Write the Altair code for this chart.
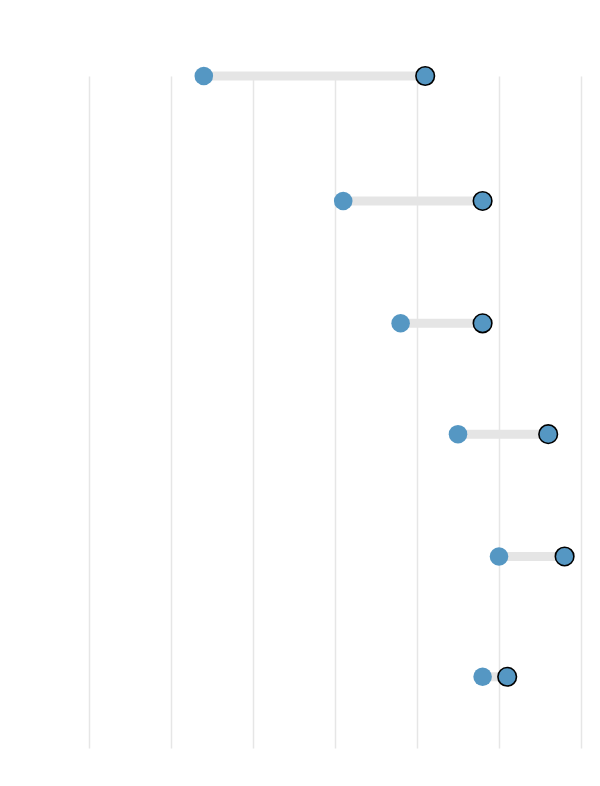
import altair as alt
import pandas as pd

rows = ["A", "B", "C", "D", "E", "F"]
row_pos = [100, 81.4, 63.2, 46.7, 28.5, 10.6]
start_vals = [14, 31, 38, 45, 50, 48]
end_vals = [41, 48, 48, 56, 58, 51]

df = pd.DataFrame({"row": rows, "pos": row_pos, "start": start_vals, "end": end_vals})

x_scale = alt.Scale(domain=[0, 60], nice=False, zero=False)
y_scale = alt.Scale(domain=[0, 100], nice=False, zero=False)

x_axis = alt.Axis(title=None, labels=False, ticks=False, domain=False, grid=True,
                  values=[0, 10, 20, 30, 40, 50, 60], gridColor="#e6e6e6", gridWidth=1.5)

base = alt.Chart(df)

rule = base.mark_rule(color="#e5e5e5", strokeWidth=9).encode(
    x=alt.X("start:Q", scale=x_scale, axis=x_axis),
    x2="end:Q",
    y=alt.Y("pos:Q", scale=y_scale, axis=None),
)

start_pts = base.mark_circle(size=345, color="#5597c3", opacity=1).encode(
    x=alt.X("start:Q", scale=x_scale),
    y=alt.Y("pos:Q", scale=y_scale),
)

end_pts = base.mark_point(shape="circle", size=345, filled=True, fill="#5597c3",
                          stroke="black", strokeWidth=1.6, opacity=1).encode(
    x=alt.X("end:Q", scale=x_scale),
    y=alt.Y("pos:Q", scale=y_scale),
)

chart = alt.layer(rule, start_pts, end_pts).properties(
    width=492, height=672,
    autosize=alt.AutoSizeParams(type="none"),
    padding={"left": 81, "top": 68, "right": 11, "bottom": 30},
).configure_view(stroke=None)

chart.save("out.html", embed_options={"renderer": "svg", "actions": False})
